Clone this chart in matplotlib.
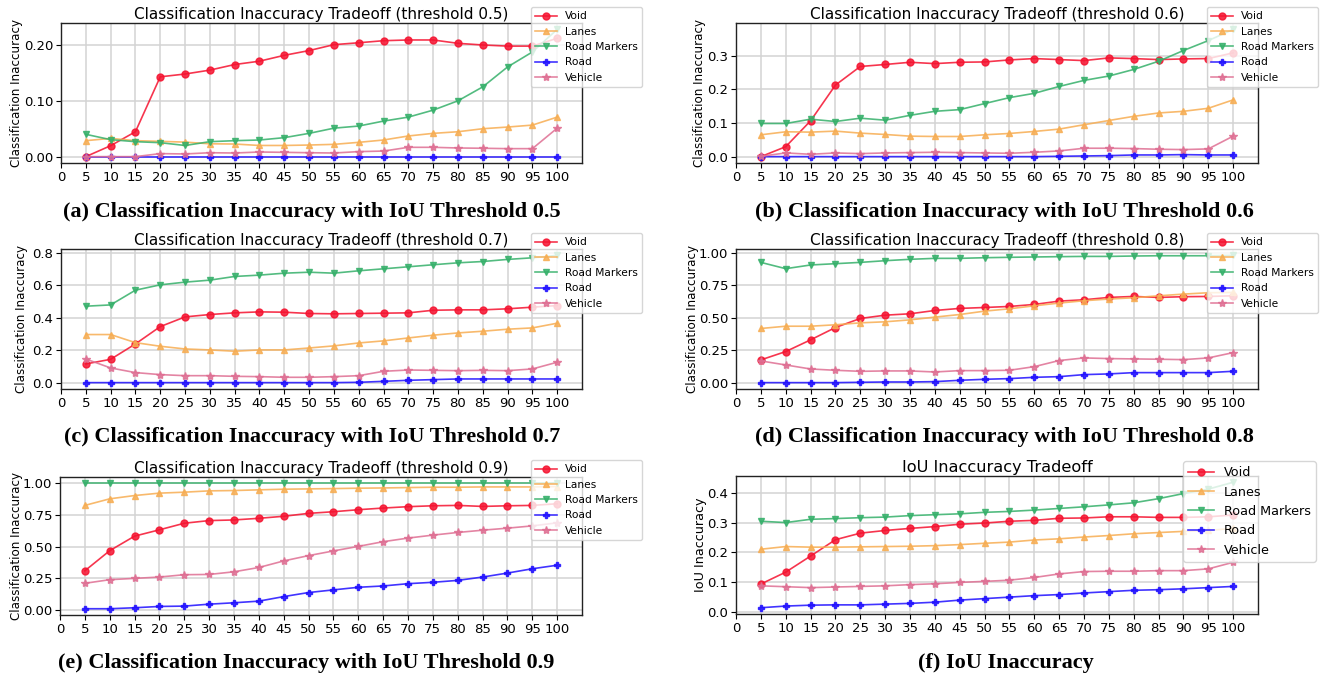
import matplotlib
matplotlib.use("Agg")
import matplotlib.pyplot as plt
import numpy as np

x = [5, 10, 15, 20, 25, 30, 35, 40, 45, 50, 55, 60, 65, 70, 75, 80, 85, 90, 95, 100]
series_names = ["Void", "Lanes", "Road Markers", "Road", "Vehicle"]
xticks = list(range(0, 101, 5))

# (a) threshold 0.5
a_void = [0.0, 0.0196, 0.0446, 0.143, 0.148, 0.155, 0.165, 0.171, 0.1815, 0.190, 0.2006, 0.204, 0.2077, 0.209, 0.209, 0.203, 0.200, 0.198, 0.198, 0.212]
a_lanes = [0.0286, 0.0327, 0.0286, 0.0274, 0.026, 0.023, 0.0226, 0.020, 0.020, 0.0208, 0.022, 0.0256, 0.0298, 0.037, 0.0417, 0.0446, 0.050, 0.053, 0.0565, 0.0708]
a_markers = [0.040, 0.0304, 0.0268, 0.025, 0.020, 0.0268, 0.0286, 0.0298, 0.034, 0.0417, 0.051, 0.0548, 0.0637, 0.0708, 0.0833, 0.100, 0.125, 0.1607, 0.1875, 0.228]
a_road = [0.0] * 20
a_vehicle = [0.0, 0.0, 0.0, 0.0054, 0.0048, 0.007, 0.0065, 0.0083, 0.0077, 0.007, 0.0065, 0.009, 0.010, 0.0167, 0.0167, 0.0155, 0.015, 0.0143, 0.0143, 0.051]

# (b) threshold 0.6
b_void = [0.0, 0.0296, 0.1066, 0.213, 0.2685, 0.2744, 0.281, 0.277, 0.281, 0.282, 0.288, 0.292, 0.289, 0.286, 0.294, 0.292, 0.289, 0.291, 0.292, 0.309]
b_lanes = [0.065, 0.074, 0.073, 0.076, 0.070, 0.066, 0.061, 0.060, 0.060, 0.065, 0.069, 0.075, 0.082, 0.095, 0.1076, 0.120, 0.130, 0.135, 0.144, 0.169]
b_markers = [0.0987, 0.0987, 0.1115, 0.1046, 0.1145, 0.1086, 0.123, 0.135, 0.140, 0.158, 0.1757, 0.1885, 0.209, 0.227, 0.240, 0.2596, 0.284, 0.316, 0.3455, 0.379]
b_road = [0.0, 0.0, 0.0, 0.0, 0.0, 0.0, 0.0, 0.0, 0.0, 0.0, 0.0, 0.0, 0.001, 0.002, 0.003, 0.005, 0.005, 0.006, 0.005, 0.005]
b_vehicle = [0.001, 0.011, 0.007, 0.011, 0.009, 0.011, 0.012, 0.013, 0.012, 0.011, 0.010, 0.013, 0.017, 0.025, 0.025, 0.024, 0.022, 0.021, 0.023, 0.061]

# (c) threshold 0.7
c_void = [0.1155, 0.144, 0.239, 0.346, 0.406, 0.4206, 0.431, 0.437, 0.435, 0.427, 0.425, 0.427, 0.429, 0.431, 0.447, 0.4495, 0.4495, 0.456, 0.466, 0.476]
c_lanes = [0.297, 0.297, 0.247, 0.2247, 0.208, 0.202, 0.194, 0.202, 0.202, 0.214, 0.227, 0.245, 0.258, 0.276, 0.293, 0.307, 0.3175, 0.330, 0.338, 0.367]
c_markers = [0.472, 0.480, 0.571, 0.604, 0.6206, 0.633, 0.6557, 0.664, 0.676, 0.682, 0.676, 0.6907, 0.703, 0.7155, 0.728, 0.740, 0.748, 0.761, 0.771, 0.786]
c_road = [0.0, 0.0, 0.0, 0.0, 0.0, 0.0, 0.0, 0.0, 0.0, 0.0, 0.0, 0.002, 0.008, 0.0144, 0.0186, 0.0227, 0.0227, 0.0227, 0.0227, 0.0227]
c_vehicle = [0.146, 0.0907, 0.062, 0.0495, 0.043, 0.043, 0.039, 0.037, 0.033, 0.033, 0.037, 0.043, 0.070, 0.078, 0.076, 0.074, 0.076, 0.074, 0.0845, 0.126]

# (d) threshold 0.8
d_void = [0.175, 0.239, 0.329, 0.424, 0.4936, 0.519, 0.5296, 0.555, 0.571, 0.578, 0.586, 0.6015, 0.627, 0.6375, 0.6555, 0.663, 0.6555, 0.661, 0.663, 0.668]
d_lanes = [0.4165, 0.434, 0.434, 0.445, 0.460, 0.468, 0.483, 0.504, 0.524, 0.550, 0.568, 0.591, 0.612, 0.630, 0.643, 0.653, 0.668, 0.681, 0.6915, 0.694]
d_markers = [0.925, 0.8766, 0.905, 0.915, 0.925, 0.938, 0.9486, 0.956, 0.956, 0.961, 0.964, 0.9666, 0.969, 0.971, 0.971, 0.974, 0.976, 0.976, 0.976, 0.979]
d_road = [0.0, 0.0, 0.0, 0.0, 0.0026, 0.005, 0.005, 0.0077, 0.018, 0.0257, 0.031, 0.041, 0.046, 0.0617, 0.067, 0.077, 0.077, 0.077, 0.077, 0.0874]
d_vehicle = [0.167, 0.136, 0.105, 0.095, 0.087, 0.090, 0.090, 0.082, 0.0925, 0.0925, 0.095, 0.123, 0.170, 0.190, 0.185, 0.1825, 0.180, 0.177, 0.190, 0.231]

# (e) threshold 0.9
e_void = [0.308, 0.467, 0.582, 0.632, 0.684, 0.705, 0.710, 0.723, 0.739, 0.762, 0.775, 0.791, 0.804, 0.815, 0.822, 0.825, 0.817, 0.822, 0.825, 0.838]
e_lanes = [0.825, 0.877, 0.903, 0.922, 0.9295, 0.940, 0.9426, 0.948, 0.953, 0.9556, 0.958, 0.961, 0.963, 0.966, 0.9687, 0.9687, 0.971, 0.971, 0.971, 0.974]
e_markers = [1.0] * 20
e_road = [0.008, 0.008, 0.0157, 0.026, 0.0287, 0.044, 0.055, 0.068, 0.104, 0.136, 0.157, 0.1775, 0.188, 0.206, 0.217, 0.232, 0.2585, 0.290, 0.324, 0.352]
e_vehicle = [0.209, 0.2376, 0.248, 0.2585, 0.277, 0.279, 0.300, 0.334, 0.386, 0.428, 0.465, 0.501, 0.538, 0.5666, 0.590, 0.611, 0.629, 0.645, 0.663, 0.687]

# (f) IoU inaccuracy
f_void = [0.094, 0.134, 0.188, 0.243, 0.265, 0.274, 0.281, 0.287, 0.295, 0.299, 0.305, 0.308, 0.315, 0.316, 0.320, 0.320, 0.318, 0.318, 0.320, 0.326]
f_lanes = [0.211, 0.220, 0.218, 0.218, 0.219, 0.220, 0.221, 0.223, 0.2265, 0.231, 0.235, 0.242, 0.246, 0.252, 0.257, 0.263, 0.267, 0.271, 0.274, 0.281]
f_markers = [0.305, 0.3006, 0.3116, 0.314, 0.317, 0.319, 0.324, 0.327, 0.330, 0.335, 0.338, 0.3425, 0.348, 0.3536, 0.360, 0.367, 0.381, 0.398, 0.413, 0.436]
f_road = [0.0144, 0.020, 0.023, 0.024, 0.024, 0.0265, 0.029, 0.033, 0.040, 0.045, 0.050, 0.055, 0.0586, 0.064, 0.0685, 0.073, 0.075, 0.078, 0.082, 0.086]
f_vehicle = [0.088, 0.085, 0.082, 0.084, 0.086, 0.088, 0.092, 0.095, 0.0994, 0.103, 0.107, 0.116, 0.128, 0.136, 0.137, 0.137, 0.139, 0.139, 0.145, 0.167]

titles = ["Classification Inaccuracy Tradeoff (threshold 0.5)",
          "Classification Inaccuracy Tradeoff (threshold 0.6)",
          "Classification Inaccuracy Tradeoff (threshold 0.7)",
          "Classification Inaccuracy Tradeoff (threshold 0.8)",
          "Classification Inaccuracy Tradeoff (threshold 0.9)",
          "IoU Inaccuracy Tradeoff"]
ylabels = ["Classification Inaccuracy"] * 5 + ["IoU Inaccuracy"]
captions = ["(a) Classification Inaccuracy with IoU Threshold 0.5",
            "(b) Classification Inaccuracy with IoU Threshold 0.6",
            "(c) Classification Inaccuracy with IoU Threshold 0.7",
            "(d) Classification Inaccuracy with IoU Threshold 0.8",
            "(e) Classification Inaccuracy with IoU Threshold 0.9",
            "(f) IoU Inaccuracy"]

panels = [
    [a_void, a_lanes, a_markers, a_road, a_vehicle],
    [b_void, b_lanes, b_markers, b_road, b_vehicle],
    [c_void, c_lanes, c_markers, c_road, c_vehicle],
    [d_void, d_lanes, d_markers, d_road, d_vehicle],
    [e_void, e_lanes, e_markers, e_road, e_vehicle],
    [f_void, f_lanes, f_markers, f_road, f_vehicle],
]

colors = ["#f5122f", "#f7ad52", "#35b06a", "#2010ff", "#df6f93"]
markers = ["o", "^", "v", "P", "*"]

W, H = 1322, 679
fig = plt.figure(figsize=(W / 100, H / 100), dpi=100)

# axes boxes in pixel coords: (left, top, right, bottom)
boxes = [(61, 23, 582, 163), (736, 23, 1258, 163),
         (61, 249, 582, 389), (736, 249, 1258, 389),
         (60, 477, 582, 615), (736, 476, 1258, 614)]
legend_anchor = [(531, 7), (1207, 7), (531, 233), (1207, 233), (531, 460), (1183, 461)]
legend_fs = [7.7, 7.7, 7.7, 7.7, 7.7, 9.2]
caption_pos = [(312, 212), (1004, 212), (312, 437), (1004, 437), (306, 663), (1006, 663)]
title_fs = [11, 11, 11, 11, 11, 11.6]
ylabel_fs = [8.6, 8.6, 8.6, 8.6, 8.6, 9.2]
ylabel_x = [23, 706, 28, 699, 23, 707]
ytick_fmt = ["%.2f", "%.1f", "%.1f", "%.2f", "%.2f", "%.1f"]

for i, data in enumerate(panels):
    l, t, r, b = boxes[i]
    ax = fig.add_axes([l / W, 1 - b / H, (r - l) / W, (b - t) / H])
    for k, ys in enumerate(data):
        ax.plot(x, ys, color=colors[k], marker=markers[k], markersize=5 if k != 4 else 6,
                linewidth=1.2, alpha=0.85, label=series_names[k])
    ax.set_xlim(0, 105)
    ax.set_xticks(xticks)
    ax.grid(True, color="#d3d3d3", linewidth=1.1)
    ax.set_axisbelow(True)
    for s in ax.spines.values():
        s.set_color("#222222")
        s.set_linewidth(1.0)
    ax.yaxis.set_major_formatter(matplotlib.ticker.FormatStrFormatter(ytick_fmt[i]))
    ax.tick_params(labelsize=9.5, length=3.5, width=0.8, pad=2)
    ax.set_title(titles[i], fontsize=title_fs[i], pad=3)
    ax.set_ylabel(ylabels[i], fontsize=ylabel_fs[i])
    ax.yaxis.set_label_coords((ylabel_x[i] - l) / (r - l), 0.5)
    lx, ly = legend_anchor[i]
    ax.legend(loc="upper left", bbox_to_anchor=(lx / W, 1 - ly / H),
              bbox_transform=fig.transFigure, fontsize=legend_fs[i],
              borderaxespad=0, handlelength=2, labelspacing=0.5)
    cx, cy = caption_pos[i]
    fig.text(cx / W, 1 - cy / H, captions[i], ha="center", va="center",
             fontsize=16, fontweight="bold", family=["Liberation Serif", "DejaVu Serif"])

fig.savefig("out.png", dpi=100)
